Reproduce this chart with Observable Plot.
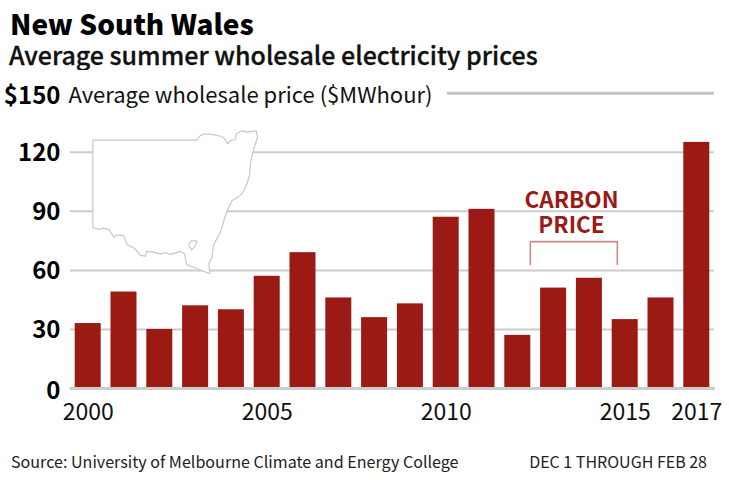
<!DOCTYPE html>
<html><head><meta charset="utf-8">
<script src="https://cdn.jsdelivr.net/npm/d3@7"></script>
<script src="https://cdn.jsdelivr.net/npm/@observablehq/plot@0.6"></script>
<style>
html,body{margin:0;padding:0;background:#fff;width:729px;height:480px;overflow:hidden;font-family:"Noto Sans CJK SC","Noto Sans",sans-serif;color:#111}
#head{position:absolute;left:0;top:0;width:729px;height:70px}
#t{position:absolute;left:10px;top:9px;font-size:28px;font-weight:900;line-height:28px;white-space:nowrap;color:#000}
#s{position:absolute;left:9px;top:41px;font-size:25px;font-weight:500;line-height:26px;white-space:nowrap;-webkit-text-stroke:0.3px #111}
#chart{position:absolute;left:0;top:70px}
#src{position:absolute;left:11px;top:450px;font-size:16.1px;line-height:22px;color:#222;white-space:nowrap}
#rng{position:absolute;right:22px;top:450px;font-size:16px;line-height:22px;color:#222;white-space:nowrap}
svg{display:block}
</style></head><body>
<div id="head"><div id="t">New South Wales</div><div id="s">Average summer wholesale electricity prices</div></div>
<div id="chart"></div>
<div id="src">Source: University of Melbourne Climate and Energy College</div>
<div id="rng">DEC 1 THROUGH FEB 28</div>
<script>
const years=[2000,2001,2002,2003,2004,2005,2006,2007,2008,2009,2010,2011,2012,2013,2014,2015,2016,2017];
const prices=[33,49,30,42,40,57,69,46,36,43,87,91,27,51,56,35,46,125];
const xTicks=[2000,2005,2010,2015,2017];
const yTicks=[30,60,90,120];
const gridValues=[30,60,90,120];
const carbonLabels=[{t:"CARBON",v:95.4},{t:"PRICE",v:82.7}];
const carbonBracket={x:[2012.35,2012.35,2014.78,2014.78],y:[63,74.6,74.6,63]};
// state outline, traced in arbitrary survey units
const mapU=[92.3,196.7,199,202.3,210,221,223.7,227,230.3,235,235.7,241.7,246.7,255.7,257,253.3,250,249,245.7,241.7,235,231.7,226.7,223.3,220,212.7,211.7,208.3,209.3,196.7,186,184,180,170,164.3,160,153.3,146,145,140,133.3,126.7,123.3,116.7,113.3,108.3,101.7,98.3,92.3,92.3];
const mapV=[139.7,139.7,135.7,133.7,133.7,136,137.7,143.3,140,139,133.3,130.3,131.7,130.3,136.7,148.3,161.7,175,185,193.3,198.3,200,210,220,231.7,245,256.7,263.3,273.3,268.3,264,253.3,251,254,252.3,253.7,251.7,251,255.7,255,247.3,244.3,235.7,234.3,236.7,229,227.7,229,227.3,139.7];
const actU=[188.3,191.7,196.7,194,191,188.3,188.3];
const actV=[243.3,240,241,246.7,249.3,245,243.3];

const uToYear=d3.scaleLinear().domain([92.3,257]).range([2000.13,2004.73]);
const vToPrice=d3.scaleLinear().domain([130.3,273.3]).range([130.9,58.3]);
const bars=years.map((year,i)=>({year,price:prices[i]}));
const mapPts=mapU.map((u,i)=>({x:uToYear(u),y:vToPrice(mapV[i])}));
const actPts=actU.map((u,i)=>({x:uToYear(u),y:vToPrice(actV[i])}));
const bracket=carbonBracket.x.map((x,i)=>({x,y:carbonBracket.y[i]}));

const ff='"Noto Sans CJK SC","Noto Sans",sans-serif';
const red="#9b1a14",gray="#cccccc";
const yAxisStyle={tickSize:0,tickPadding:0,anchor:"left",label:null,frameAnchor:"left",dx:60,fontSize:24,fontWeight:700,fill:"#000"};
const plot=Plot.plot({
  width:729,height:370,
  marginLeft:0,marginRight:0,marginTop:0,marginBottom:0,
  style:{fontFamily:ff,background:"#fff",overflow:"visible"},
  x:{domain:[2000,2017],range:[87.7,696.3]},
  y:{domain:[0,150],range:[318,22.7]},
  marks:[
    Plot.ruleY(gridValues,{x1:1999.5,x2:2017.49,stroke:gray,strokeWidth:2}),
    Plot.ruleY([150],{x1:2010.03,x2:2017.49,stroke:"#c4c4c4",strokeWidth:3}),
    Plot.line(mapPts,{x:"x",y:"y",fill:"#fff",stroke:"#c8c8c8",strokeWidth:1.2,curve:"linear"}),
    Plot.line(actPts,{x:"x",y:"y",stroke:"#c8c8c8",strokeWidth:1.2}),
    Plot.rectY(bars,{x1:d=>d.year-0.363,x2:d=>d.year+0.363,y:"price",fill:red}),
    Plot.ruleY([0],{x1:1999.5,x2:2017.52,stroke:gray,strokeWidth:3}),
    Plot.axisY({...yAxisStyle,ticks:yTicks,dy:1}),
    Plot.axisY({...yAxisStyle,ticks:[0],dy:3}),
    Plot.axisY({...yAxisStyle,ticks:[150],dy:3,tickFormat:d=>"$"+d}),
    Plot.axisX({ticks:xTicks,tickSize:0,tickPadding:0,anchor:"bottom",label:null,tickFormat:d=>String(d),
      frameAnchor:"bottom",dy:-37,fontSize:23,fill:"#111"}),
    Plot.text(["Average wholesale price ($MWhour)"],{x:1999.45,y:150,dy:3,text:d=>d,textAnchor:"start",fontSize:22,fill:"#111"}),
    Plot.line(bracket,{x:"x",y:"y",stroke:"#c98a88",strokeWidth:1.6}),
    Plot.text(carbonLabels,{x:2013.5,y:"v",text:"t",textAnchor:"middle",fontSize:22.5,fontWeight:700,fill:red})
  ]
});
document.getElementById("chart").appendChild(plot);
</script>
</body></html>
